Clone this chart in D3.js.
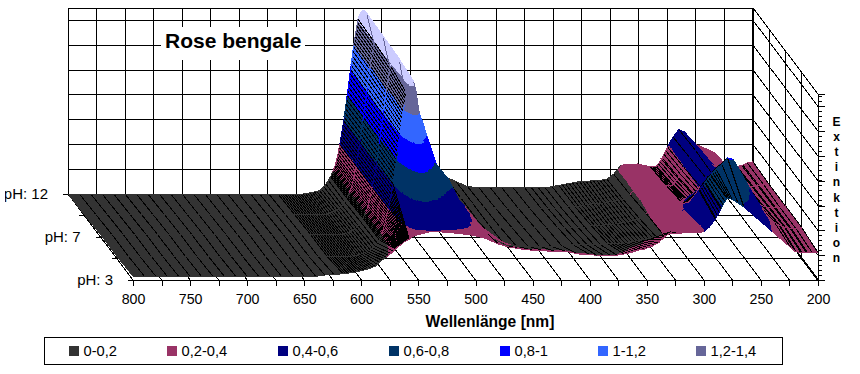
<!DOCTYPE html>
<html>
    <head>
        <title>Rose bengale</title>
        <script src="https://d3js.org/d3.v7.min.js"></script>
        <style>
        html, body { margin: 0; padding: 0; background: white; }
        svg { display: block; }
        text { font-family: "Liberation Sans", Arial, sans-serif; fill: #000; }
        .wall line { stroke: black; stroke-width: 1px; }
        .plot { shape-rendering: crispEdges; }
        </style>
    </head>

    <body>
        <svg id="chart" width="860" height="374"></svg>

        <script>
            // Wavelength columns, denser where the surface is steep
            const wavelengths = [
                800,790,780,770,760,750,740,730,720,710,700,690,680,670,660,650,640,
                632,624,616,608,600,594,588,582,578,574,570,
                568,566,564,562,560,558,556,554,552,550,548,546,544,
                542,540,538,535,532,528,524,520,515,510,505,500,495,490,485,480,
                470,460,450,440,430,420,410,400,
                394,388,382,376,370,364,358,352,346,340,334,328,322,
                316,310,305,300,295,290,285,280,275,270,265,260,
                255,250,245,240,235,230,225,220,215,210,205,200];

            // Extinction, one array per row, back to front
            const ph12 = [
                0,0,0,0,0,0,0,0,0,0,0,0,0,0,0,0,0,
                0,0,0,0,0,0,.01,.02,.04,.08,.14,
                .18,.23,.30,.40,.50,.62,.76,.90,1.04,1.19,1.30,1.41,1.46,
                1.48,1.48,1.44,1.33,1.22,1.06,.90,.76,.62,.52,.44,.37,.30,.25,.21,.18,
                .14,.10,.06,.05,.05,.05,.05,.05,
                .05,.05,.05,.06,.07,.08,.09,.10,.10,.11,.11,.12,.16,
                .23,.24,.24,.24,.23,.22,.22,.28,.38,.46,.52,.50,
                .45,.40,.38,.36,.34,.30,.24,.22,.22,.23,.25,.26];
            const ph10 = [
                .01,.01,.01,.01,.01,.01,.01,.01,.01,.01,.01,.01,.01,.01,.01,.01,.01,
                .01,.01,.01,.01,.01,.01,.01,.03,.05,.08,.14,
                .18,.23,.30,.40,.50,.62,.76,.89,1.03,1.18,1.29,1.40,1.45,
                1.47,1.47,1.43,1.30,1.19,1.04,.89,.76,.63,.54,.46,.38,.31,.26,.21,.18,
                .14,.10,.07,.06,.06,.06,.06,.06,
                .06,.06,.06,.07,.07,.08,.09,.10,.10,.11,.12,.13,.17,
                .23,.25,.25,.25,.25,.24,.24,.30,.39,.47,.53,.51,
                .46,.41,.38,.36,.34,.30,.25,.23,.23,.24,.25,.25];
            const ph7 = [
                .02,.02,.02,.02,.02,.02,.02,.02,.02,.02,.02,.02,.02,.02,.02,.02,.02,
                .02,.02,.02,.02,.02,.02,.02,.04,.06,.09,.15,
                .19,.24,.31,.40,.50,.61,.75,.88,1.02,1.16,1.27,1.38,1.44,
                1.46,1.46,1.41,1.26,1.15,1.02,.88,.76,.65,.56,.48,.40,.33,.27,.22,.19,
                .14,.10,.08,.08,.08,.08,.08,.08,
                .08,.08,.08,.08,.09,.09,.10,.10,.11,.12,.13,.15,.19,
                .23,.26,.27,.27,.27,.27,.28,.33,.41,.48,.52,.52,
                .48,.43,.39,.36,.33,.30,.27,.25,.24,.24,.24,.25];
            const ph5 = [
                .02,.02,.02,.02,.02,.02,.02,.02,.02,.02,.02,.02,.02,.02,.02,.02,.02,
                .02,.02,.02,.02,.02,.02,.03,.05,.07,.10,.15,
                .20,.25,.33,.40,.49,.60,.73,.86,1.00,1.13,1.24,1.33,1.41,
                1.43,1.43,1.36,1.17,1.10,.98,.87,.76,.70,.65,.56,.47,.42,.36,.30,.25,
                .16,.11,.10,.10,.10,.10,.10,.11,
                .11,.11,.11,.11,.12,.12,.12,.13,.14,.15,.16,.18,.20,
                .26,.33,.38,.43,.49,.55,.61,.67,.72,.76,.81,.80,
                .72,.64,.56,.48,.41,.34,.30,.27,.25,.24,.24,.25];
            const ph3 = [
                .03,.03,.03,.03,.03,.03,.03,.03,.03,.03,.03,.03,.03,.03,.03,.03,.03,
                .04,.045,.05,.06,.075,.09,.11,.16,.185,.215,.25,
                .27,.28,.295,.31,.32,.33,.345,.355,.36,.365,.37,.375,.38,
                .385,.39,.39,.39,.39,.385,.38,.38,.375,.37,.365,.355,.345,.33,.31,.29,
                .265,.25,.24,.235,.23,.23,.21,.205,
                .20,.20,.20,.20,.21,.22,.24,.25,.27,.30,.35,.39,.39,
                .38,.38,.38,.39,.43,.49,.57,.66,.65,.62,.59,.55,
                .51,.47,.43,.39,.35,.31,.27,.23,.22,.22,.22,.22];

            const rows = [ph12, ph10, ph7, ph5, ph3];
            const rowLabels = ["pH: 12", "", "pH: 7", "", "pH: 3"];

            // Bands of the surface; the top one shows on the ridge but not in the legend
            const bandEdges = [0, .2, .4, .6, .8, 1, 1.2, 1.4, 1.6];
            const bandColors = ["#333333", "#993366", "#000080", "#003366", "#0000FF", "#3366FF", "#666699", "#CCCCFF"];
            const legendLabels = ["0-0,2", "0,2-0,4", "0,4-0,6", "0,6-0,8", "0,8-1", "1-1,2", "1,2-1,4"];

            const xTicks = d3.range(800, 199, -25);
            const zTicks = [0, .2, .4, .6, .8, 1, 1.2, 1.4, 1.5];
            const zMajor = [0, .2, .4, .6, .8, 1, 1.2, 1.4];
            const zMinor = d3.range(0, 1.5, .04);

            // Where the original's column lines crowd together: [from, to, spacing in nm]
            const hatchZones = [[620, 570, 2], [570, 542, .5], [375, 325, 3], [292, 272, 1.5], [235, 205, 4]];
            // and where the pink shoulder stays clean
            const cleanZone = [322, 295];

            // Oblique projection: back left corner of the floor, and the depth shift to the front
            const origin = {x: 68, y: 194};
            const depthShift = {x: 65, y: 86};

            const xScale = d3.scaleLinear().domain([800, 200]).range([0, 685]);
            const zScale = d3.scaleLinear().domain([0, 1.5]).range([0, -186]);
            const depthScale = d3.scalePoint().domain(d3.range(rows.length)).range([0, 1]);

            const project = (lam, d, h) => [
                origin.x + xScale(lam) + depthShift.x * d,
                origin.y + zScale(h) + depthShift.y * d
            ];

            const svg = d3.select("svg#chart");
            const plot = svg.append("g").attr("class", "plot");

            // Back wall
            const wall = plot.append("g").attr("class", "wall");
            const wallLine = (a, b, w) => wall.append("line")
                .attr("x1", a[0]).attr("y1", a[1]).attr("x2", b[0]).attr("y2", b[1])
                .style("stroke-width", w || 1);

            zTicks.forEach(z => wallLine(project(800, 0, z), project(200, 0, z)));
            xTicks.forEach(l => wallLine(project(l, 0, 0), project(l, 0, 1.5), l === 200 ? 2 : 1));

            // Right wall
            zTicks.forEach(z => wallLine(project(200, 0, z), project(200, 1, z)));
            depthScale.domain().forEach(r => {
                const d = depthScale(r);
                wallLine(project(200, d, 0), project(200, d, 1.5));
            });

            // Floor
            depthScale.domain().forEach(r => {
                const d = depthScale(r);
                wallLine(project(800, d, 0), project(200, d, 0));
            });
            xTicks.forEach(l => wallLine(project(l, 0, 0), project(l, 1, 0)));
            wallLine(project(800, 0, 0), project(800, 1, 0));
            wallLine(project(200, .7, 0), project(200, 1, 0), 2);

            // Title sits on a white box over the wall
            svg.append("rect").attr("x", 161).attr("y", 27).attr("width", 144).attr("height", 33).attr("fill", "white");
            svg.append("text").attr("x", 165).attr("y", 48)
               .style("font-size", "21px").style("font-weight", "bold").text("Rose bengale");

            // Clip a polygon to one side of a height level
            const clipAt = function(poly, level, keepAbove) {
                const out = [];
                poly.forEach((p, i) => {
                    const q = poly[(i + 1) % poly.length];
                    const pIn = keepAbove ? p.h >= level : p.h <= level;
                    const qIn = keepAbove ? q.h >= level : q.h <= level;
                    if (pIn) out.push(p);
                    if (pIn !== qIn) {
                        const t = (level - p.h) / (q.h - p.h);
                        out.push({lam: p.lam + t * (q.lam - p.lam), d: p.d + t * (q.d - p.d), h: level});
                    }
                });
                return out;
            };

            const surface = plot.append("g").attr("class", "surface");
            const line = d3.line();
            const bandOf = h => Math.max(0, Math.min(bandColors.length - 1, d3.bisectRight(bandEdges, h) - 1));

            const drawTriangle = function(tri) {
                bandColors.forEach((color, b) => {
                    let poly = clipAt(tri, bandEdges[b], true);
                    if (poly.length) poly = clipAt(poly, bandEdges[b + 1], false);
                    if (poly.length < 3) return;
                    surface.append("path")
                        .attr("d", line(poly.map(p => project(p.lam, p.d, p.h))) + "Z")
                        .attr("fill", color)
                        .attr("stroke", color)
                        .attr("stroke-width", 1);
                });
            };

            const drawEdge = (a, b, color, w) => surface.append("line")
                .attr("x1", a[0]).attr("y1", a[1]).attr("x2", b[0]).attr("y2", b[1])
                .attr("stroke", color).attr("stroke-width", w || 1);

            // Painter's order: back row first, and right to left inside a row
            for (let r = 0; r < rows.length - 1; r++) {
                const d0 = depthScale(r), d1 = depthScale(r + 1);
                const edges = [];
                const rowEdges = [];
                for (let i = wavelengths.length - 2; i >= 0; i--) {
                    const lamL = wavelengths[i], lamR = wavelengths[i + 1];
                    const a = {lam: lamL, d: d0, h: rows[r][i]};
                    const b = {lam: lamR, d: d0, h: rows[r][i + 1]};
                    const c = {lam: lamR, d: d1, h: rows[r + 1][i + 1]};
                    const e = {lam: lamL, d: d1, h: rows[r + 1][i]};
                    drawTriangle([a, b, c]);
                    drawTriangle([a, c, e]);

                    // Column lines in black, left out where the face turns away or drops to the front
                    const fall = ((a.h + e.h) - (b.h + c.h)) / 2 / (lamL - lamR);
                    const drop = ((a.h + b.h) - (c.h + e.h)) / 2;
                    const mean = (a.h + b.h + c.h + e.h) / 4;
                    const clean = lamL <= cleanZone[0] && lamR >= cleanZone[1];
                    if (!(fall > .002 && mean > .3) && drop < .25 && mean < 1.38 && !clean) {
                        edges.push([project(b.lam, b.d, b.h), project(c.lam, c.d, c.h), "#000"]);
                        const zone = hatchZones.find(z => lamL <= z[0] && lamR >= z[1]);
                        if (zone) {
                            for (let l = lamR + zone[2]; l < lamL; l += zone[2]) {
                                const t = (l - lamR) / (lamL - lamR);
                                edges.push([project(l, d0, b.h + t * (a.h - b.h)), project(l, d1, c.h + t * (e.h - c.h)), "#000"]);
                            }
                        }
                    }

                    // Row edges keep the colour of their band
                    rowEdges.push([project(a.lam, a.d, a.h), project(b.lam, b.d, b.h), bandColors[bandOf((a.h + b.h) / 2)]]);
                    rowEdges.push([project(e.lam, e.d, e.h), project(c.lam, c.d, c.h), bandColors[bandOf((e.h + c.h) / 2)]]);
                }
                // Lines go on once the whole row is filled, so the next cell cannot cover them
                edges.forEach(s => drawEdge(s[0], s[1], s[2]));
                rowEdges.forEach(s => drawEdge(s[0], s[1], s[2]));
            }

            // Wavelength axis
            const xAxis = d3.axisBottom(xScale)
                .tickValues(xTicks)
                .tickSize(6)
                .tickPadding(8)
                .tickFormat(d => d % 50 === 0 ? d : "");
            const xG = svg.append("g").attr("class", "plot")
                .attr("transform", `translate(${origin.x + depthShift.x},${origin.y + depthShift.y})`)
                .call(xAxis);
            xG.select(".domain").remove();
            xG.selectAll("text").style("font-size", "14.2px").attr("fill", "#000");

            svg.append("text").attr("x", 490).attr("y", 327).attr("text-anchor", "middle")
               .style("font-size", "15.6px").style("font-weight", "bold").text("Wellenlänge [nm]");

            // pH labels on the left edge of the floor
            depthScale.domain().forEach(r => {
                const p = project(800, depthScale(r), 0);
                svg.append("line").attr("class", "plot")
                   .attr("x1", p[0] - 5).attr("y1", p[1]).attr("x2", p[0]).attr("y2", p[1])
                   .attr("stroke", "black").style("shape-rendering", "crispEdges");
                svg.append("text").attr("x", p[0] - 20).attr("y", p[1] + 5)
                   .attr("text-anchor", "end").style("font-size", "15px").text(rowLabels[r]);
            });
            // The first label is cut by the edge of the chart area in the original
            svg.append("rect").attr("x", 0).attr("y", 180).attr("width", 5).attr("height", 30).attr("fill", "white");

            // Extinction axis, front right corner
            const zAxisScale = d3.scaleLinear().domain([0, 1.5]).range([origin.y + depthShift.y, origin.y + depthShift.y - 186]);
            const zX = origin.x + 685 + depthShift.x;
            const zG = svg.append("g").attr("class", "plot").attr("transform", `translate(${zX},0)`);
            zG.call(d3.axisRight(zAxisScale).tickValues(zMajor).tickSize(7).tickFormat(""));
            zG.select(".domain").attr("stroke", "black");
            zG.selectAll("line.minor").data(zMinor).join("line")
              .attr("class", "minor")
              .attr("x2", 4)
              .attr("y1", d => zAxisScale(d)).attr("y2", d => zAxisScale(d))
              .attr("stroke", "black");

            "Extinktion".split("").forEach((ch, i) => {
                svg.append("text").attr("x", 836.5).attr("y", 126 + i * 15.1).attr("text-anchor", "middle")
                   .style("font-size", "12px").style("font-weight", "bold").text(ch);
            });

            // Legend
            const swatchX = [69, 167, 278, 389, 500, 598, 696];
            const legend = svg.append("g");
            legend.append("rect").attr("class", "plot")
                  .attr("x", 44.5).attr("y", 337.5).attr("width", 738).attr("height", 27)
                  .attr("fill", "white").attr("stroke", "black");
            legendLabels.forEach((label, i) => {
                legend.append("rect").attr("x", swatchX[i]).attr("y", 346).attr("width", 10).attr("height", 10)
                      .attr("fill", bandColors[i]);
                legend.append("text").attr("x", swatchX[i] + 14.5).attr("y", 356)
                      .style("font-size", "14.7px").text(label);
            });
        </script>
    </body>
</html>
